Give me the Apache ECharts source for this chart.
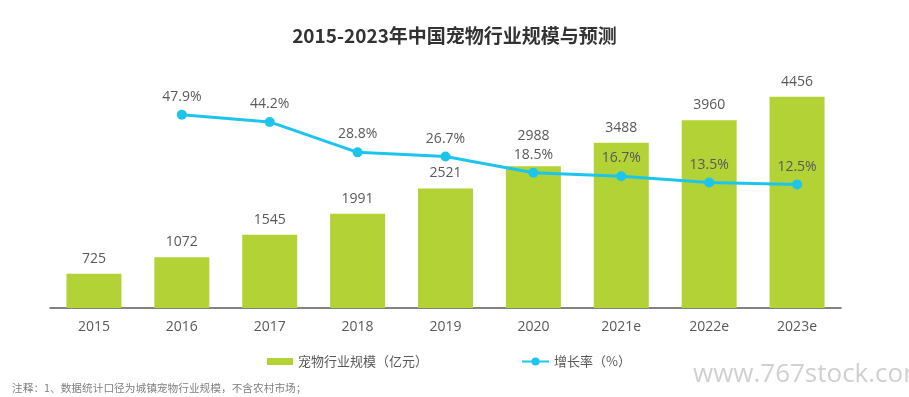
<!DOCTYPE html>
<html><head><meta charset="utf-8">
<script src="https://cdn.jsdelivr.net/npm/echarts@6/dist/echarts.min.js"></script>
<style>html,body{margin:0;padding:0;background:#fff}#c{width:909px;height:397px}</style>
</head><body><div id="c"></div>
<script>
const categories = ['2015','2016','2017','2018','2019','2020','2021e','2022e','2023e'];
const marketSize = [725,1072,1545,1991,2521,2988,3488,3960,4456];
const growthRate = [null,47.9,44.2,28.8,26.7,18.5,16.7,13.5,12.5];
const titleText = '2015-2023年中国宠物行业规模与预测';
const seriesNames = ['宠物行业规模（亿元）','增长率（%）'];
const noteText = '注释：1、数据统计口径为城镇宠物行业规模，不含农村市场；';
const watermark = 'www.767stock.com';

const chart = echarts.init(document.getElementById('c'), null, {renderer:'canvas'});
const font = '"Open Sans","Noto Sans CJK SC",sans-serif';
const cjk = '"Noto Sans CJK SC",sans-serif';
// lift the 2020 bar label so it clears the growth label
const barData = marketSize.map((v,i)=> categories[i]==='2020' ? {value:v,label:{distance:23}} : v);
chart.setOption({
  animation:false,
  backgroundColor:'#fff',
  title:{text:titleText,left:'center',top:21,textStyle:{fontSize:19,fontWeight:'bold',color:'#333',fontFamily:cjk}},
  grid:{left:50,right:68,top:71,bottom:89,containLabel:false},
  legend:[
    {left:262,top:350,itemWidth:26,itemHeight:7,itemGap:98,
      textStyle:{fontSize:13,color:'#595959',fontFamily:cjk},
      data:[{name:seriesNames[0],icon:'rect'}]},
    {left:516,top:350,itemWidth:27,itemHeight:10,
      textStyle:{fontSize:13,color:'#595959',fontFamily:cjk},
      data:[{name:seriesNames[1]}]}
  ],
  xAxis:{type:'category',data:categories,
    axisLine:{lineStyle:{color:'#595959',width:1.5}},axisTick:{show:false},
    axisLabel:{fontSize:14,color:'#595959',margin:12,fontFamily:font}},
  yAxis:[
    {type:'value',min:0,max:5000,show:false,splitLine:{show:false}},
    {type:'value',min:-50,max:70,show:false,splitLine:{show:false}}
  ],
  series:[
    {name:seriesNames[0],type:'bar',data:barData,barWidth:55,yAxisIndex:0,
      itemStyle:{color:'#B2D235'},
      label:{show:true,position:'top',distance:8,fontSize:14,color:'#595959',fontFamily:font}},
    {name:seriesNames[1],type:'line',data:growthRate,yAxisIndex:1,
      symbol:'circle',symbolSize:10,lineStyle:{color:'#1DC5EE',width:3},itemStyle:{color:'#1DC5EE'},
      label:{show:true,position:'top',distance:6,fontSize:14,color:'#595959',fontFamily:font,
        formatter:p=>p.value==null?'':p.value+'%'}}
  ],
  graphic:[
    {type:'text',left:12,top:383,style:{text:noteText,fontSize:10.7,fill:'#7f7f7f',fontFamily:cjk}},
    {type:'text',left:693,top:362,style:{text:watermark,fontSize:26,fill:'#d0d0d0',fontFamily:'"Open Sans",sans-serif'}}
  ]
});
</script></body></html>
